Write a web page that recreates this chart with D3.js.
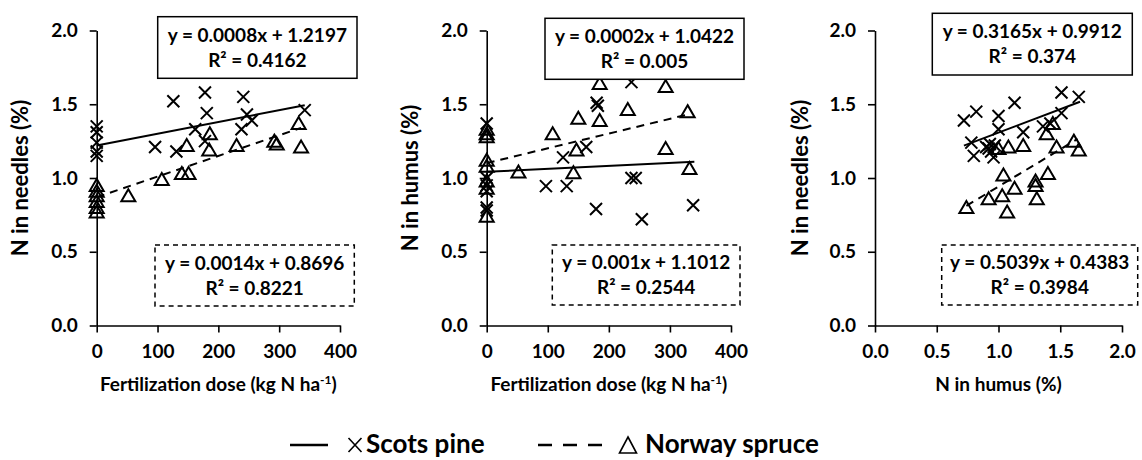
<!DOCTYPE html>
<html>
<head>
<meta charset="utf-8">
<script src="https://cdn.jsdelivr.net/npm/d3@7"></script>
<style>
  body { margin: 0; background: #fff; }
  svg { display: block; font-family: Lato, "Open Sans", sans-serif; font-weight: bold; }
</style>
</head>
<body>
<svg id="chart" width="1142" height="460"></svg>
<script>
// --- data ---
// panel 1: fertilization dose (kg N/ha) vs N in needles (%)
const doseNeedlesPine = [[0,1.35],[0,1.31],[0,1.24],[0,1.18],[0,1.15],[96,1.21],[126,1.52],[131,1.18],
  [162,1.33],[178,1.58],[181,1.44],[178,1.25],[241,1.55],[238,1.33],[247,1.43],[255,1.39],[342,1.46]];
const doseNeedlesSpruce = [[0,0.95],[0,0.91],[0,0.88],[0,0.84],[0,0.80],[0,0.77],[52,0.88],[107,0.99],
  [140,1.03],[151,1.03],[148,1.22],[186,1.30],[185,1.19],[230,1.22],[292,1.25],[296,1.23],[332,1.37],[336,1.21]];
// panel 2: fertilization dose vs N in humus (%)
const doseHumusPine = [[0,1.37],[0,1.0],[0,0.95],[0,0.91],[0,0.80],[0,0.78],[97,0.945],[131,0.945],
  [125,1.14],[163,1.21],[179,0.79],[180,1.51],[182,1.49],[237,1.65],[237,1.0],[244,1.0],[254,0.72],[338,0.815]];
const doseHumusSpruce = [[0,1.33],[0,1.30],[0,1.28],[0,1.12],[0,1.08],[0,0.98],[0,0.93],[0,0.74],[52,1.04],
  [108,1.30],[142,1.035],[147,1.19],[150,1.405],[185,1.39],[185,1.64],[231,1.465],[293,1.62],[293,1.20],
  [329,1.45],[332,1.065]];
// panel 3: N in humus vs N in needles
const humusNeedlesPine = [[0.72,1.39],[0.82,1.45],[0.78,1.24],[0.80,1.15],[0.90,1.21],[0.92,1.20],[0.94,1.18],
  [0.96,1.14],[0.97,1.22],[0.93,1.23],[1.00,1.42],[1.00,1.33],[1.13,1.51],[1.20,1.31],[1.36,1.35],[1.42,1.37],
  [1.51,1.58],[1.51,1.44],[1.65,1.55]];
const humusNeedlesSpruce = [[0.74,0.80],[0.92,0.86],[1.03,0.88],[1.13,0.93],[1.07,0.77],[1.04,1.02],[1.30,0.98],
  [1.30,0.95],[1.31,0.86],[1.40,1.03],[1.08,1.21],[1.20,1.22],[1.00,1.20],[1.39,1.30],[1.44,1.37],[1.47,1.21],
  [1.61,1.25],[1.65,1.19]];

// trend lines: [slope, intercept, xStart, xEnd]
const fit1Pine = [0.0008, 1.2197, 0, 342];
const fit1Spruce = [0.0014, 0.8696, 0, 336];
const fit2Pine = [0.0002, 1.0422, 0, 340];
const fit2Spruce = [0.001, 1.1012, 0, 332];
const fit3Pine = [0.3165, 0.9912, 0.72, 1.66];
const fit3Spruce = [0.5039, 0.4383, 0.74, 1.64];

// equation labels
const eq1Pine = ["y = 0.0008x + 1.2197", "R² = 0.4162"];
const eq1Spruce = ["y = 0.0014x + 0.8696", "R² = 0.8221"];
const eq2Pine = ["y = 0.0002x + 1.0422", "R² = 0.005"];
const eq2Spruce = ["y = 0.001x + 1.1012", "R² = 0.2544"];
const eq3Pine = ["y = 0.3165x + 0.9912", "R² = 0.374"];
const eq3Spruce = ["y = 0.5039x + 0.4383", "R² = 0.3984"];

const yTicks = [0, 0.5, 1.0, 1.5, 2.0];
const doseTicks = [0, 100, 200, 300, 400];
const humusTicks = [0, 0.5, 1.0, 1.5, 2.0];

const svg = d3.select("#chart");
const plotTop = 30.5, plotBottom = 325.5;

const panels = [
  { left: 96.7, right: 340, xDomain: [0, 400], xTicks: doseTicks, xFmt: d3.format("d"),
    pine: doseNeedlesPine, spruce: doseNeedlesSpruce, fitPine: fit1Pine, fitSpruce: fit1Spruce,
    eqPine: eq1Pine, eqSpruce: eq1Spruce, yTitle: "N in needles (%)", yTitleX: 20, xTitle: "dose",
    solidBox: [157.7, 16.7, 199.3, 61.6], dashBox: [155, 245, 199.3, 61] },
  { left: 486.7, right: 731, xDomain: [0, 400], xTicks: doseTicks, xFmt: d3.format("d"),
    pine: doseHumusPine, spruce: doseHumusSpruce, fitPine: fit2Pine, fitSpruce: fit2Spruce,
    eqPine: eq2Pine, eqSpruce: eq2Spruce, yTitle: "N in humus (%)", yTitleX: 410, xTitle: "dose",
    solidBox: [545, 18.3, 199, 61], dashBox: [552.3, 245, 187.7, 60] },
  { left: 875, right: 1122, xDomain: [0, 2], xTicks: humusTicks, xFmt: d3.format(".1f"),
    pine: humusNeedlesPine, spruce: humusNeedlesSpruce, fitPine: fit3Pine, fitSpruce: fit3Spruce,
    eqPine: eq3Pine, eqSpruce: eq3Spruce, yTitle: "N in needles (%)", yTitleX: 800, xTitle: "N in humus (%)",
    solidBox: [932.3, 13.3, 200, 61.7], dashBox: [941.7, 245, 196, 60] }
];

const crossPath = "M-6,-6L6,6M-6,6L6,-6";
const triPath = "M0,-6.5L7,5.5L-7,5.5Z";

panels.forEach(function(p) {
  const x = d3.scaleLinear().domain(p.xDomain).range([p.left, p.right]);
  const y = d3.scaleLinear().domain([0, 2]).range([plotBottom, plotTop]);
  const g = svg.append("g");

  // axes
  const yAxis = g.append("g")
    .attr("transform", "translate(" + p.left + ",0)")
    .call(d3.axisLeft(y).tickValues(yTicks).tickFormat(d3.format(".1f")).tickSize(7).tickSizeOuter(0).tickPadding(12));
  const xAxis = g.append("g")
    .attr("transform", "translate(0," + plotBottom + ")")
    .call(d3.axisBottom(x).tickValues(p.xTicks).tickFormat(p.xFmt).tickSize(7).tickSizeOuter(0).tickPadding(12));
  [yAxis, xAxis].forEach(function(a) {
    a.selectAll("path, line").attr("stroke", "#000").attr("stroke-width", 1.6);
    a.selectAll("text").attr("fill", "#000").style("font-size", "19px").style("font-family", "Lato, sans-serif").style("font-weight", "bold");
  });

  // axis titles
  g.append("text")
    .attr("transform", "translate(" + p.yTitleX + "," + ((plotTop + plotBottom) / 2) + ") rotate(-90)")
    .attr("text-anchor", "middle").attr("dy", "0.35em")
    .style("font-size", "22px")
    .text(p.yTitle);

  const xt = g.append("text")
    .attr("x", (p.left + p.right) / 2).attr("y", 391)
    .attr("text-anchor", "middle")
    .style("font-size", "19px");
  if (p.xTitle === "dose") {
    xt.append("tspan").text("Fertilization dose (kg N ha");
    xt.append("tspan").attr("dy", -7).style("font-size", "12px").text("-1");
    xt.append("tspan").attr("dy", 7).text(")");
  } else {
    xt.text(p.xTitle);
  }

  // trend lines
  function fitLine(f, dash) {
    g.append("line")
      .attr("x1", x(f[2])).attr("y1", y(f[0] * f[2] + f[1]))
      .attr("x2", x(f[3])).attr("y2", y(f[0] * f[3] + f[1]))
      .attr("stroke", "#000").attr("stroke-width", 2)
      .attr("stroke-dasharray", dash ? "8,6" : null);
  }
  fitLine(p.fitPine, false);
  fitLine(p.fitSpruce, true);

  // markers
  g.selectAll(".pine").data(p.pine).enter().append("path")
    .attr("class", "pine")
    .attr("transform", function(d) { return "translate(" + x(d[0]) + "," + y(d[1]) + ")"; })
    .attr("d", crossPath).attr("fill", "none").attr("stroke", "#000").attr("stroke-width", 2);
  g.selectAll(".spruce").data(p.spruce).enter().append("path")
    .attr("class", "spruce")
    .attr("transform", function(d) { return "translate(" + x(d[0]) + "," + y(d[1]) + ")"; })
    .attr("d", triPath).attr("fill", "none").attr("stroke", "#000").attr("stroke-width", 2);

  // equation boxes
  function eqBox(b, lines, dash) {
    g.append("rect")
      .attr("x", b[0]).attr("y", b[1]).attr("width", b[2]).attr("height", b[3])
      .attr("fill", "#fff").attr("stroke", "#000").attr("stroke-width", 1.5)
      .attr("stroke-dasharray", dash ? "5,4" : null);
    const cx = b[0] + b[2] / 2, cy = b[1] + b[3] / 2;
    g.append("text").attr("x", cx).attr("y", cy - 12.5).attr("dy", "0.35em")
      .attr("text-anchor", "middle").style("font-size", "19px").text(lines[0]);
    g.append("text").attr("x", cx).attr("y", cy + 12.5).attr("dy", "0.35em")
      .attr("text-anchor", "middle").style("font-size", "19px").text(lines[1]);
  }
  eqBox(p.solidBox, p.eqPine, false);
  eqBox(p.dashBox, p.eqSpruce, true);
});

// legend
const leg = svg.append("g");
const legY = 445;
leg.append("line").attr("x1", 290).attr("x2", 328).attr("y1", legY).attr("y2", legY)
  .attr("stroke", "#000").attr("stroke-width", 2.5);
leg.append("path").attr("transform", "translate(355," + legY + ")")
  .attr("d", "M-6.5,-7L6.5,7M-6.5,7L6.5,-7").attr("stroke", "#000").attr("stroke-width", 1.6).attr("fill", "none");
leg.append("text").attr("x", 366).attr("y", 453)
  .style("font-size", "26px").text("Scots pine");
leg.append("line").attr("x1", 538).attr("x2", 602).attr("y1", legY).attr("y2", legY)
  .attr("stroke", "#000").attr("stroke-width", 2.5).attr("stroke-dasharray", "14,11");
leg.append("path").attr("transform", "translate(628," + legY + ")")
  .attr("d", "M0,-8L8.5,8L-8.5,8Z").attr("stroke", "#000").attr("stroke-width", 1.6).attr("fill", "none");
leg.append("text").attr("x", 645).attr("y", 453)
  .style("font-size", "26px").text("Norway spruce");
</script>
</body>
</html>
